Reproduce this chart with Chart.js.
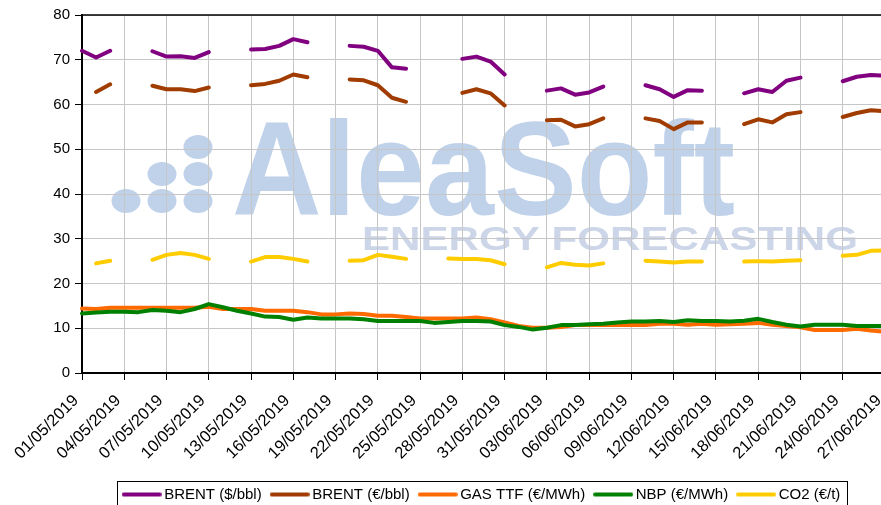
<!DOCTYPE html>
<html>
<head>
<meta charset="utf-8">
<script src="https://cdn.jsdelivr.net/npm/chart.js@4/dist/chart.umd.min.js"></script>
<style>
html,body{margin:0;padding:0;background:#fff;overflow:hidden;width:881px;height:505px;}
#wrap{position:absolute;left:0;top:0;width:900px;height:512px;}
</style>
</head>
<body>
<div id="wrap"><canvas id="c" width="900" height="512"></canvas></div>
<script>
const dates = [
  '01/05/2019','02/05/2019','03/05/2019','04/05/2019','05/05/2019','06/05/2019','07/05/2019',
  '08/05/2019','09/05/2019','10/05/2019','11/05/2019','12/05/2019','13/05/2019','14/05/2019',
  '15/05/2019','16/05/2019','17/05/2019','18/05/2019','19/05/2019','20/05/2019','21/05/2019',
  '22/05/2019','23/05/2019','24/05/2019','25/05/2019','26/05/2019','27/05/2019','28/05/2019',
  '29/05/2019','30/05/2019','31/05/2019','01/06/2019','02/06/2019','03/06/2019','04/06/2019',
  '05/06/2019','06/06/2019','07/06/2019','08/06/2019','09/06/2019','10/06/2019','11/06/2019',
  '12/06/2019','13/06/2019','14/06/2019','15/06/2019','16/06/2019','17/06/2019','18/06/2019',
  '19/06/2019','20/06/2019','21/06/2019','22/06/2019','23/06/2019','24/06/2019','25/06/2019',
  '26/06/2019','27/06/2019'
];

const brentUsd = [
  72.0, 70.5, 72.0, null, null, 71.9, 70.7,
  70.8, 70.4, 71.7, null, null, 72.3, 72.4,
  73.1, 74.6, 73.9, null, null, 73.1, 72.9,
  72.0, 68.3, 68.0, null, null, null, 70.2,
  70.7, 69.6, 66.7, null, null, 63.1, 63.6,
  62.2, 62.7, 64.0, null, null, 64.3, 63.4,
  61.7, 63.2, 63.1, null, null, 62.5, 63.4,
  62.8, 65.3, 66.0, null, null, 65.2, 66.2,
  66.6, 66.4
];

const brentEur = [
  null, 62.8, 64.5, null, null, 64.2, 63.4,
  63.4, 63.0, 63.8, null, null, 64.3, 64.6,
  65.3, 66.7, 66.1, null, null, 65.6, 65.4,
  64.3, 61.5, 60.6, null, null, null, 62.6,
  63.4, 62.5, 59.8, null, null, 56.5, 56.6,
  55.1, 55.6, 56.9, null, null, 56.9, 56.3,
  54.5, 56.0, 56.0, null, null, 55.6, 56.7,
  56.0, 57.8, 58.3, null, null, 57.2, 58.1,
  58.7, 58.5
];

const gasTtf = [
  14.4, 14.3, 14.6, 14.6, 14.6, 14.6, 14.6,
  14.6, 14.6, 14.8, 14.3, 14.3, 14.3, 13.9,
  13.9, 13.9, 13.6, 13.1, 13.1, 13.3, 13.2,
  12.8, 12.8, 12.5, 12.2, 12.2, 12.2, 12.2,
  12.4, 12.0, 11.3, 10.5, 10.1, 10.1, 10.3,
  10.7, 10.7, 10.7, 10.7, 10.7, 10.7, 11.0,
  11.0, 10.8, 11.0, 10.8, 10.9, 11.0, 11.2,
  10.8, 10.5, 10.2, 9.6, 9.6, 9.6, 9.9,
  9.5, 9.2
];

const nbp = [
  13.3, 13.5, 13.7, 13.7, 13.6, 14.1, 13.9,
  13.6, 14.3, 15.4, 14.7, 13.9, 13.3, 12.6,
  12.5, 11.9, 12.4, 12.2, 12.2, 12.2, 12.0,
  11.6, 11.6, 11.6, 11.6, 11.2, 11.4, 11.6,
  11.6, 11.5, 10.7, 10.3, 9.7, 10.1, 10.7,
  10.7, 10.9, 11.0, 11.3, 11.5, 11.5, 11.6,
  11.4, 11.8, 11.6, 11.6, 11.5, 11.7, 12.1,
  11.4, 10.8, 10.4, 10.8, 10.8, 10.8, 10.5,
  10.5, 10.5
];

const co2 = [
  null, 24.5, 25.1, null, null, 25.3, 26.4,
  26.8, 26.4, 25.5, null, null, 24.9, 25.9,
  25.9, 25.5, 24.9, null, null, 25.1, 25.2,
  26.4, 26.0, 25.5, null, null, 25.6, 25.5,
  25.5, 25.2, 24.3, null, null, 23.6, 24.6,
  24.2, 24.0, 24.5, null, null, 25.1, 24.9,
  24.7, 24.9, 24.9, null, null, 24.9, 25.0,
  24.9, 25.1, 25.2, null, null, 26.2, 26.4,
  27.3, 27.4
];

const seriesNames = ['BRENT ($/bbl)', 'BRENT (€/bbl)', 'GAS TTF (€/MWh)', 'NBP (€/MWh)', 'CO2 (€/t)'];
const seriesColors = ['#800080', '#a03c00', '#ff6a00', '#008000', '#ffcc00'];
const yTicks = [0, 10, 20, 30, 40, 50, 60, 70, 80];

const FONT = "'Liberation Sans', Arial, sans-serif";
const seriesData = [brentUsd, brentEur, gasTtf, nbp, co2];

// legend line swatches
function swatch(color) {
  const cv = document.createElement('canvas');
  cv.width = 40; cv.height = 6;
  const g = cv.getContext('2d');
  g.strokeStyle = color; g.lineWidth = 4; g.lineCap = 'round';
  g.beginPath(); g.moveTo(2, 3); g.lineTo(38, 3); g.stroke();
  return cv;
}

const watermark = {
  id: 'watermark',
  beforeDraw(chart) {
    const ctx = chart.ctx;
    ctx.save();
    ctx.fillStyle = 'rgb(192,210,234)';
    const dots = [[198,147],[162,174],[198,174],[126,201],[162,201],[198,201]];
    dots.forEach(([x,y]) => { ctx.beginPath(); ctx.ellipse(x, y, 14.5, 12, 0, 0, Math.PI*2); ctx.fill(); });
    ctx.font = 'bold 133px ' + FONT;
    ctx.textBaseline = 'alphabetic';
    let w = ctx.measureText('AleaSoft').width;
    ctx.save();
    ctx.translate(232, 215);
    ctx.scale(503 / w, 1);
    ctx.fillText('AleaSoft', 0, 0);
    ctx.restore();
    ctx.fillStyle = 'rgb(204,214,232)';
    ctx.font = 'bold 34px ' + FONT;
    w = ctx.measureText('ENERGY FORECASTING').width;
    ctx.save();
    ctx.translate(362, 250);
    ctx.scale(496 / w, 1);
    ctx.fillText('ENERGY FORECASTING', 0, 0);
    ctx.restore();
    ctx.restore();
  }
};

const frame = {
  id: 'frame',
  afterDraw(chart) {
    const ctx = chart.ctx;
    const a = chart.chartArea;
    ctx.save();
    ctx.strokeStyle = '#000';
    ctx.lineWidth = 1.5;
    ctx.beginPath();
    ctx.moveTo(a.left, a.top);
    ctx.lineTo(a.right, a.top);
    ctx.stroke();
    const lg = chart.legend;
    if (lg && lg.legendHitBoxes && lg.legendHitBoxes.length) {
      const hb = lg.legendHitBoxes;
      const l = Math.min(...hb.map(h => h.left)) - 10;
      const r = Math.max(...hb.map(h => h.left + h.width)) + 6;
      const t = lg.top + 7;
      ctx.lineWidth = 1;
      ctx.strokeRect(Math.round(l) + 0.5, Math.round(t) + 0.5, Math.round(r - l), 60);
    }
    ctx.restore();
  }
};

new Chart(document.getElementById('c'), {
  type: 'line',
  data: {
    labels: dates,
    datasets: seriesData.map((d, i) => ({
      label: seriesNames[i],
      data: d,
      borderColor: seriesColors[i],
      backgroundColor: seriesColors[i],
      borderWidth: 4,
      pointRadius: 0,
      pointHoverRadius: 0,
      pointStyle: swatch(seriesColors[i]),
      borderCapStyle: 'round',
      borderJoinStyle: 'round',
      tension: 0,
      spanGaps: false,
      fill: false,
      order: 5 - i
    }))
  },
  options: {
    responsive: false,
    animation: false,
    devicePixelRatio: 1,
    layout: { padding: { top: 15, right: 15, left: 0, bottom: 0 } },
    plugins: {
      tooltip: { enabled: false },
      legend: {
        position: 'bottom',
        fullSize: false,
        labels: {
          usePointStyle: true,
          pointStyleWidth: 30,
          boxHeight: 6,
          padding: 13,
          color: '#000',
          font: { family: FONT, size: 15 },
          sort: (a, b) => a.datasetIndex - b.datasetIndex
        }
      }
    },
    scales: {
      x: {
        type: 'category',
        offset: false,
        afterFit(s) { s.height = 101; s.paddingRight = 0; },
        grid: {
          color: c => (c.index % 3 === 0 ? '#c6c6c6' : 'rgba(0,0,0,0)'),
          tickColor: c => (c.index % 3 === 0 ? '#000' : 'rgba(0,0,0,0)'),
          lineWidth: 1,
          tickLength: 7,
          drawOnChartArea: true
        },
        border: { color: '#000', width: 2 },
        ticks: {
          autoSkip: false,
          minRotation: 45,
          maxRotation: 45,
          color: '#000',
          padding: 11,
          labelOffset: -6,
          font: { family: FONT, size: 16.5 },
          callback: (v, i) => (i % 3 === 0 ? dates[i] : '')
        }
      },
      y: {
        min: yTicks[0],
        max: yTicks[yTicks.length - 1],
        afterFit(s) { s.width = 82; },
        afterBuildTicks(s) { s.ticks = yTicks.map(v => ({ value: v })); },
        grid: { color: '#c6c6c6', lineWidth: 1, tickColor: '#000', tickLength: 7 },
        border: { color: '#000', width: 2 },
        ticks: {
          color: '#000',
          padding: 5,
          font: { family: FONT, size: 15 }
        }
      }
    }
  },
  plugins: [watermark, frame]
});
</script>
</body>
</html>
